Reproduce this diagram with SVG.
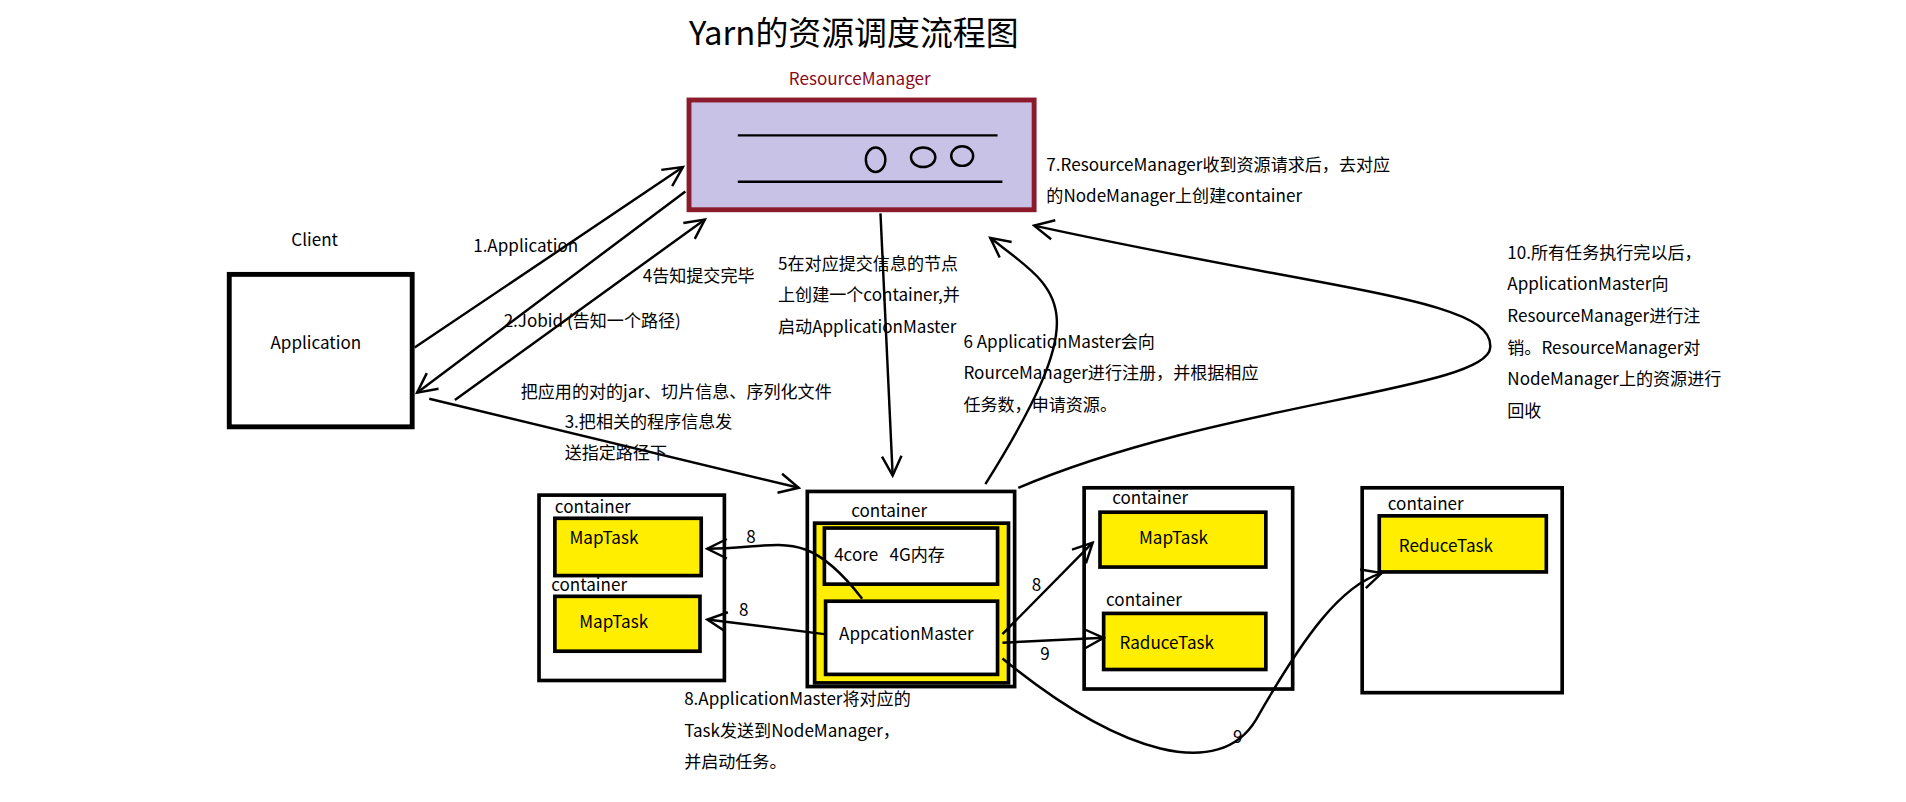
<svg xmlns="http://www.w3.org/2000/svg" width="1906" height="802" viewBox="0 0 1906 802">
<style>
text{font-family:"Microsoft YaHei","Noto Sans CJK SC","Noto Sans",sans-serif;font-size:14px;fill:#000}
.c{stroke:#000;stroke-width:2;fill:none}
.box{fill:#fff;stroke:#000;stroke-width:3}
.y{fill:#ffee00;stroke:#000;stroke-width:3}
.w{fill:#fff;stroke:#000;stroke-width:3}
</style>
<defs>
<marker id="a" viewBox="0 0 20 20" refX="18" refY="10" markerWidth="20" markerHeight="20" markerUnits="userSpaceOnUse" orient="auto">
<path d="M2,2 L18,10 L2,18" fill="none" stroke="#000" stroke-width="2"/>
</marker>
</defs>
<rect width="1906" height="802" fill="#fff"/>
<g transform="scale(1.2195)">
<text x="565" y="37" style="font-size:27px">Yarn的资源调度流程图</text>
<g id="rm">
<text x="705" y="70" text-anchor="middle" style="fill:#8b0a1a">ResourceManager</text>
<rect x="565" y="82" width="283" height="90" fill="#c8c2e6" stroke="#8b1a2b" stroke-width="4"/>
<line x1="605" y1="111" x2="818" y2="111" class="c"/>
<line x1="605" y1="149" x2="822" y2="149" class="c"/>
<ellipse cx="718" cy="131" rx="8" ry="10" class="c" fill="#fff"/>
<ellipse cx="757" cy="129" rx="10" ry="8" class="c" fill="#fff"/>
<ellipse cx="789" cy="128" rx="9" ry="8" class="c" fill="#fff"/>
</g>
<g id="client">
<text x="258" y="202" text-anchor="middle">Client</text>
<rect x="188" y="225" width="150" height="125" fill="#fff" stroke="#000" stroke-width="4"/>
<text x="259" y="286" text-anchor="middle">Application</text>
</g>
<g id="c1">
<rect x="442" y="406" width="152" height="152" class="box"/>
<text x="455" y="421">container</text>
<rect x="455" y="425" width="120" height="47" class="y"/>
<text x="467" y="446">MapTask</text>
<text x="452" y="485">container</text>
<rect x="455" y="489" width="119" height="45" class="y"/>
<text x="475" y="515">MapTask</text>
</g>
<g id="c2">
<rect x="662" y="403" width="170" height="160" class="box"/>
<text x="698" y="424">container</text>
<rect x="668" y="429" width="159" height="131" class="y"/>
<rect x="676" y="433" width="142" height="46" class="w"/>
<text x="684" y="460">4core &#160; 4G内存</text>
<rect x="677" y="493" width="141" height="60" class="w"/>
<text x="688" y="525">AppcationMaster</text>
</g>
<g id="c3">
<rect x="889" y="400" width="171" height="165" class="box"/>
<text x="912" y="413">container</text>
<rect x="902" y="420" width="136" height="45" class="y"/>
<text x="934" y="446">MapTask</text>
<text x="907" y="497">container</text>
<rect x="905" y="503" width="133" height="46" class="y"/>
<text x="918" y="532">RaduceTask</text>
</g>
<g id="c4">
<rect x="1117" y="400" width="164" height="168" class="box"/>
<text x="1138" y="418">container</text>
<rect x="1131" y="423" width="137" height="46" class="y"/>
<text x="1147" y="453">ReduceTask</text>
</g>
<g id="connectors">
<path d="M340,285 L560,137" class="c" marker-end="url(#a)"/>
<path d="M562,157 L342,322" class="c" marker-end="url(#a)"/>
<path d="M373,328 L578,180" class="c" marker-end="url(#a)"/>
<path d="M352,327 L655,400" class="c" marker-end="url(#a)"/>
<path d="M722,175 L732,390" class="c" marker-end="url(#a)"/>
<path d="M808,397 C900,250 870,240 812,195" class="c" marker-end="url(#a)"/>
<path d="M835,400 C1000,330 1220,320 1222,285 C1225,245 1100,240 848,185" class="c" marker-end="url(#a)"/>
<path d="M707,491 C660,430 640,450 580,450" class="c" marker-end="url(#a)"/>
<path d="M676,520 L580,508" class="c" marker-end="url(#a)"/>
<path d="M822,520 L896,445" class="c" marker-end="url(#a)"/>
<path d="M822,527 L905,523" class="c" marker-end="url(#a)"/>
<path d="M822,540 C920,620 1000,640 1030,590 C1070,520 1100,480 1133,470" class="c" marker-end="url(#a)"/>
</g>
<g id="labels">
<text x="388" y="207">1.Application</text>
<text x="413" y="268">2.Jobid (告知一个路径)</text>
<text x="527" y="231">4告知提交完毕</text>
<text x="427" y="326">把应用的对的jar、切片信息、序列化文件</text>
<text x="463" y="351">3.把相关的程序信息发</text>
<text x="463" y="376">送指定路径下</text>
<text x="638" y="221">5在对应提交信息的节点</text>
<text x="638" y="247">上创建一个container,并</text>
<text x="638" y="273">启动ApplicationMaster</text>
<text x="790" y="285">6 ApplicationMaster会向</text>
<text x="790" y="311">RourceManager进行注册，并根据相应</text>
<text x="790" y="337">任务数，申请资源。</text>
<text x="858" y="140">7.ResourceManager收到资源请求后，去对应</text>
<text x="858" y="166">的NodeManager上创建container</text>
<text x="1236" y="212">10.所有任务执行完以后，</text>
<text x="1236" y="238">ApplicationMaster向</text>
<text x="1236" y="264">ResourceManager进行注</text>
<text x="1236" y="290">销。ResourceManager对</text>
<text x="1236" y="316">NodeManager上的资源进行</text>
<text x="1236" y="342">回收</text>
<text x="612" y="445">8</text>
<text x="606" y="505">8</text>
<text x="846" y="485">8</text>
<text x="853" y="541">9</text>
<text x="1011" y="609">9</text>
<text x="561" y="578">8.ApplicationMaster将对应的</text>
<text x="561" y="604">Task发送到NodeManager，</text>
<text x="561" y="630">并启动任务。</text>
</g>
</g>
</svg>
